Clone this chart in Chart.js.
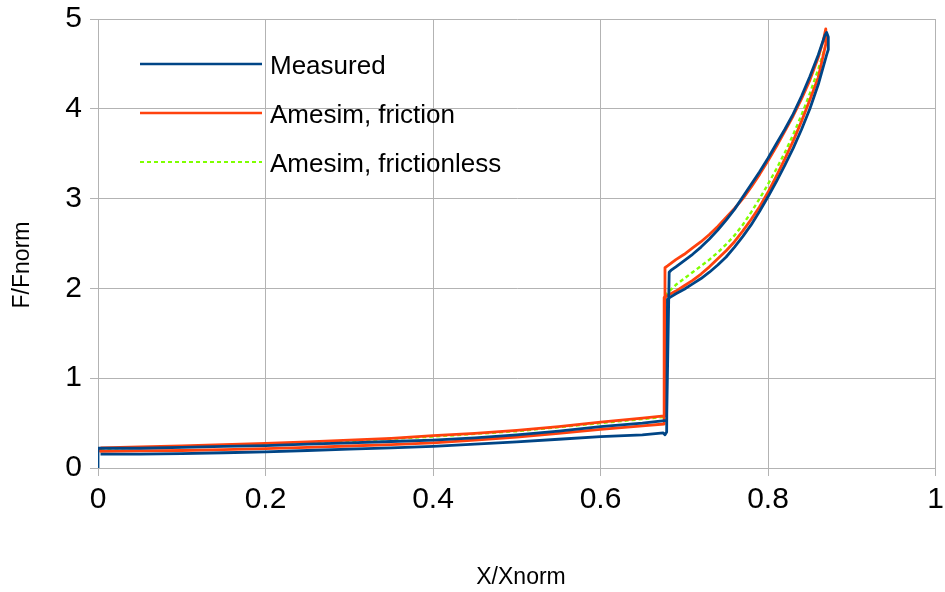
<!DOCTYPE html>
<html>
<head>
<meta charset="utf-8">
<script src="https://cdn.jsdelivr.net/npm/chart.js@4.4.1/dist/chart.umd.min.js"></script>
<style>
  html, body { margin: 0; padding: 0; background: #ffffff; }
  #wrap { width: 945px; height: 592px; }
</style>
</head>
<body>
<div id="wrap"><canvas id="c" width="945" height="592"></canvas></div>
<script>
// Force/displacement hysteresis loops, normalised values.
const seriesNames = ['Measured', 'Amesim, friction', 'Amesim, frictionless'];

// Measured loop: rise at x=0, upper low branch, jump, upper high branch, tip,
// lower high branch, drop, lower low branch.
const measuredX = [0.000, 0.000, 0.003, 0.05, 0.10, 0.15, 0.20, 0.25, 0.30, 0.35, 0.40, 0.45, 0.50, 0.55, 0.60, 0.65, 0.679,
  0.682, 0.684, 0.69, 0.70, 0.71, 0.72, 0.73, 0.74, 0.75, 0.76, 0.77, 0.78, 0.79, 0.80, 0.81, 0.82, 0.83, 0.84, 0.85, 0.86, 0.868,
  0.870, 0.872, 0.872,
  0.870, 0.86, 0.85, 0.84, 0.83, 0.82, 0.81, 0.80, 0.79, 0.78, 0.77, 0.76, 0.75, 0.74, 0.73, 0.72, 0.71, 0.70, 0.69, 0.683,
  0.680, 0.679, 0.677, 0.675,
  0.65, 0.60, 0.55, 0.50, 0.45, 0.40, 0.35, 0.30, 0.25, 0.20, 0.15, 0.10, 0.05, 0.003];
const measuredY = [0.00, 0.22, 0.22, 0.22, 0.23, 0.24, 0.25, 0.265, 0.28, 0.295, 0.31, 0.335, 0.37, 0.41, 0.46, 0.50, 0.53,
  2.18, 2.20, 2.24, 2.31, 2.38, 2.46, 2.55, 2.65, 2.76, 2.88, 3.02, 3.16, 3.30, 3.45, 3.61, 3.77, 3.94, 4.14, 4.36, 4.60, 4.82,
  4.85, 4.80, 4.66,
  4.60, 4.27, 4.00, 3.77, 3.56, 3.37, 3.19, 3.02, 2.86, 2.71, 2.58, 2.46, 2.35, 2.26, 2.18, 2.11, 2.05, 1.99, 1.94, 1.90,
  1.88, 0.40, 0.37, 0.39,
  0.37, 0.35, 0.32, 0.29, 0.265, 0.24, 0.225, 0.21, 0.195, 0.18, 0.17, 0.16, 0.155, 0.155];

// Simulated loop with friction.
const frictionX = [0.003, 0.05, 0.10, 0.15, 0.20, 0.25, 0.30, 0.35, 0.40, 0.45, 0.50, 0.55, 0.60, 0.65, 0.676,
  0.677, 0.68, 0.69, 0.70, 0.71, 0.72, 0.73, 0.74, 0.75, 0.76, 0.77, 0.78, 0.79, 0.80, 0.81, 0.82, 0.83, 0.84, 0.85, 0.86, 0.866, 0.869,
  0.869, 0.86, 0.85, 0.84, 0.83, 0.82, 0.81, 0.80, 0.79, 0.78, 0.77, 0.76, 0.75, 0.74, 0.73, 0.72, 0.71, 0.70, 0.69, 0.680, 0.677, 0.676,
  0.65, 0.60, 0.55, 0.50, 0.45, 0.40, 0.35, 0.30, 0.25, 0.20, 0.15, 0.10, 0.05, 0.003, 0.003];
const frictionY = [0.225, 0.235, 0.245, 0.26, 0.275, 0.29, 0.31, 0.33, 0.36, 0.385, 0.42, 0.46, 0.51, 0.555, 0.58,
  2.23, 2.25, 2.32, 2.38, 2.45, 2.52, 2.60, 2.69, 2.79, 2.89, 3.00, 3.13, 3.27, 3.42, 3.58, 3.75, 3.92, 4.11, 4.32, 4.57, 4.76, 4.89,
  4.72, 4.35, 4.10, 3.86, 3.64, 3.44, 3.25, 3.07, 2.91, 2.77, 2.64, 2.52, 2.42, 2.33, 2.24, 2.16, 2.09, 2.03, 1.97, 1.92, 1.90, 0.49,
  0.47, 0.43, 0.385, 0.345, 0.31, 0.28, 0.26, 0.245, 0.23, 0.215, 0.205, 0.195, 0.19, 0.185, 0.225];

// Simulated frictionless response (single path).
const frictionlessX = [0.003, 0.10, 0.20, 0.30, 0.40, 0.50, 0.60, 0.677,
  0.678, 0.69, 0.70, 0.71, 0.72, 0.73, 0.74, 0.75, 0.76, 0.77, 0.78, 0.79, 0.80, 0.81, 0.82, 0.83, 0.84, 0.85, 0.86, 0.868];
const frictionlessY = [0.215, 0.235, 0.265, 0.30, 0.35, 0.41, 0.50, 0.57,
  1.93, 2.04, 2.11, 2.18, 2.25, 2.32, 2.40, 2.49, 2.59, 2.71, 2.85, 3.00, 3.16, 3.33, 3.51, 3.71, 3.93, 4.17, 4.44, 4.68];

const xTicks = [0, 0.2, 0.4, 0.6, 0.8, 1];
const yTicks = [0, 1, 2, 3, 4, 5];

const colors = ['#004586', '#ff420e', '#7fff00'];
const FONT = '"Liberation Sans", Arial, sans-serif';

const toPoints = (xs, ys) => xs.map((x, i) => ({ x: x, y: ys[i] }));

// Legend drawn inside the plot area, over the grid.
const insideLegend = {
  id: 'insideLegend',
  afterDatasetsDraw(chart) {
    const ctx = chart.ctx;
    const rows = [64, 113, 162];
    ctx.save();
    chart.data.datasets.forEach((ds, i) => {
      const y = rows[i];
      ctx.beginPath();
      ctx.strokeStyle = ds.borderColor;
      ctx.lineWidth = i === 2 ? 2 : 2.6;
      ctx.setLineDash(ds.borderDash || []);
      ctx.moveTo(140, y);
      ctx.lineTo(262, y);
      ctx.stroke();
      ctx.setLineDash([]);
      ctx.fillStyle = '#000000';
      ctx.font = '26px ' + FONT;
      ctx.textAlign = 'left';
      ctx.textBaseline = 'alphabetic';
      ctx.fillText(ds.label, 270, y + 9.5);
    });
    ctx.restore();
  }
};

// Axis titles placed beside the axes.
const axisTitles = {
  id: 'axisTitles',
  afterDraw(chart) {
    const ctx = chart.ctx;
    ctx.save();
    ctx.fillStyle = '#000000';
    ctx.font = '23px ' + FONT;
    ctx.textAlign = 'center';
    ctx.textBaseline = 'middle';
    ctx.fillText('X/Xnorm', 521, 578);
    ctx.translate(23, 265);
    ctx.rotate(-Math.PI / 2);
    ctx.fillText('F/Fnorm', 0, 0);
    ctx.restore();
  }
};

new Chart(document.getElementById('c'), {
  type: 'scatter',
  data: {
    datasets: [
      { label: seriesNames[0], data: toPoints(measuredX, measuredY), borderColor: colors[0], borderWidth: 2.8 },
      { label: seriesNames[1], data: toPoints(frictionX, frictionY), borderColor: colors[1], borderWidth: 2.8 },
      { label: seriesNames[2], data: toPoints(frictionlessX, frictionlessY), borderColor: colors[2], borderWidth: 2.4, borderDash: [4, 3] }
    ].map(d => Object.assign(d, { showLine: true, pointRadius: 0, tension: 0, fill: false, borderJoinStyle: 'round' }))
  },
  options: {
    responsive: false,
    animation: false,
    devicePixelRatio: 1,
    layout: { padding: { left: 0, top: 19, right: 9.5, bottom: 0 } },
    plugins: { legend: { display: false }, tooltip: { enabled: false } },
    scales: {
      x: {
        type: 'linear', min: 0, max: 1,
        afterFit: s => { s.height = 124; s.paddingLeft = 0; s.paddingRight = 0; },
        afterBuildTicks: s => { s.ticks = xTicks.map(v => ({ value: v })); },
        ticks: { color: '#000000', font: { family: FONT, size: 30 }, padding: 6, maxRotation: 0,
          callback: v => String(+v.toFixed(1)) },
        grid: { color: '#b3b3b3', lineWidth: 1, tickLength: 8, drawTicks: true },
        border: { color: '#b3b3b3' }
      },
      y: {
        type: 'linear', min: 0, max: 5,
        afterFit: s => { s.width = 98; s.paddingTop = 0; s.paddingBottom = 0; },
        afterBuildTicks: s => { s.ticks = yTicks.map(v => ({ value: v })); },
        ticks: { color: '#000000', font: { family: FONT, size: 30 }, padding: 8,
          callback: v => String(v) },
        grid: { color: '#b3b3b3', lineWidth: 1, tickLength: 8, drawTicks: true },
        border: { color: '#b3b3b3' }
      }
    }
  },
  plugins: [insideLegend, axisTitles]
});
</script>
</body>
</html>
